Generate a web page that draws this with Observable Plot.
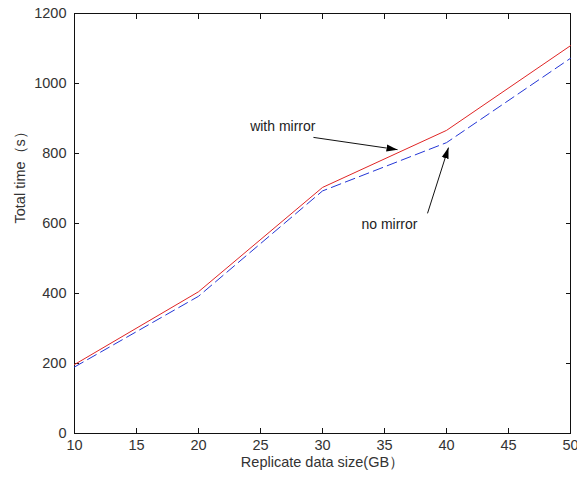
<!DOCTYPE html>
<html>
<head>
<meta charset="utf-8">
<script src="https://cdn.jsdelivr.net/npm/d3@7"></script>
<script src="https://cdn.jsdelivr.net/npm/@observablehq/plot@0.6"></script>
<style>
  html, body { margin: 0; padding: 0; background: #fff; }
  #chart svg { display: block; }
</style>
</head>
<body>
<div id="chart"></div>
<script>
// Data
const sizes = [10, 20, 30, 40, 50];                 // Replicate data size (GB)
const withMirror = [197, 405, 703, 866, 1108];       // Total time (s), red solid
const noMirror = [190, 392, 693, 831, 1072];         // Total time (s), blue dashed
const xTicks = [10, 15, 20, 25, 30, 35, 40, 45, 50];
const yTicks = [0, 200, 400, 600, 800, 1000, 1200];

const xLabel = "Replicate data size(GB）";
const yLabel = "Total time（s）";

// annotations (data coordinates)
const notes = [
  {text: "with mirror", x: 26.8, y: 877},
  {text: "no mirror", x: 35.4, y: 597}
];
const pointers = [
  {x1: 29.27, y1: 846, x2: 36.05, y2: 811},
  {x1: 38.47, y1: 629, x2: 40.16, y2: 817}
];

const red = sizes.map((s, i) => ({x: s, y: withMirror[i]}));
const blue = sizes.map((s, i) => ({x: s, y: noMirror[i]}));

function headMarker(color, context) {
  const m = d3.create("svg:marker")
    .attr("viewBox", "-5 -5 10 10")
    .attr("markerWidth", 11)
    .attr("markerHeight", 11)
    .attr("refX", 5)
    .attr("refY", 0)
    .attr("orient", "auto")
    .attr("markerUnits", "userSpaceOnUse")
    .attr("fill", "#000")
    .attr("stroke", "none");
  m.append("path").attr("d", "M-5,-3.2L5,0L-5,3.2Z");
  return m.node();
}

const font = "'Liberation Sans', Arial, Helvetica, sans-serif";
const textColor = "#333";
const fmt = d => String(d);

const chart = Plot.plot({
  width: 577,
  height: 483,
  marginLeft: 74,
  marginRight: 7,
  marginTop: 13,
  marginBottom: 50,
  style: {fontFamily: font, fontSize: "14px", background: "#fff", color: textColor},
  x: {domain: [10, 50]},
  y: {domain: [0, 1200]},
  marks: [
    Plot.frame({stroke: "#111", strokeWidth: 1}),
    // tick labels
    Plot.axisX(xTicks, {anchor: "bottom", tickSize: 0, tickPadding: 6, fontSize: 14.5, fill: textColor, label: null, tickFormat: fmt}),
    Plot.axisY(yTicks, {anchor: "left", tickSize: 0, tickPadding: 8, fontSize: 14.5, fill: textColor, label: null, tickFormat: fmt}),
    // inward ticks on all four sides
    Plot.axisX(xTicks, {anchor: "bottom", tickSize: -5, fill: "none", stroke: "#111", label: null}),
    Plot.axisX(xTicks, {anchor: "top", tickSize: -5, fill: "none", stroke: "#111", label: null}),
    Plot.axisY(yTicks, {anchor: "left", tickSize: -5, fill: "none", stroke: "#111", label: null}),
    Plot.axisY(yTicks, {anchor: "right", tickSize: -5, fill: "none", stroke: "#111", label: null}),
    // axis titles
    Plot.text([xLabel], {frameAnchor: "bottom", dy: 33, fontSize: 14.5, fill: textColor}),
    Plot.text([yLabel], {frameAnchor: "left", dx: -54, rotate: -90, fontSize: 14.5, fill: textColor}),
    // series
    Plot.line(blue, {x: "x", y: "y", stroke: "#2436d6", strokeWidth: 1, strokeDasharray: "10,5"}),
    Plot.line(red, {x: "x", y: "y", stroke: "#e02525", strokeWidth: 1}),
    // annotations
    Plot.text(notes, {x: "x", y: "y", text: "text", fontSize: 14, fill: "#222"}),
    Plot.link(pointers, {x1: "x1", y1: "y1", x2: "x2", y2: "y2", stroke: "#111", strokeWidth: 1, markerEnd: headMarker})
  ]
});
document.getElementById("chart").appendChild(chart);
</script>
</body>
</html>
